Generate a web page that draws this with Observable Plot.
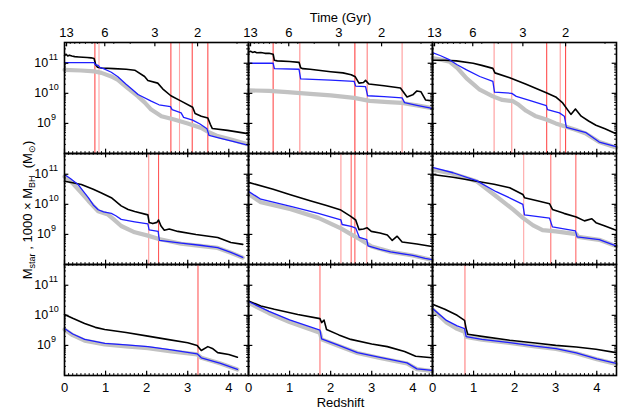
<!DOCTYPE html>
<html><head><meta charset="utf-8">
<script src="https://cdn.jsdelivr.net/npm/d3@7"></script>
<script src="https://cdn.jsdelivr.net/npm/@observablehq/plot@0.6"></script>
<style>body{margin:0;background:#fff;}</style>
</head><body><div id="chart"></div>
<script>
// ---- data: [redshift, log10(mass)] ----
const p1Black = [[0,11.25],[0.04,11.3],[0.08,11.24],[0.12,11.27],[0.18,11.24],[0.25,11.22],[0.35,11.21],[0.45,11.2],[0.55,11.19],[0.65,11.18],[0.72,11.16],[0.76,10.95],[0.8,10.87],[0.9,10.84],[1.2,10.82],[1.5,10.8],[1.71,10.77],[1.95,10.56],[2.03,10.43],[2.27,10.34],[2.39,10.15],[2.59,9.92],[2.84,9.74],[3.12,9.54],[3.18,9.33],[3.33,9.24],[3.49,9.18],[3.55,8.97],[3.6,8.83],[3.97,8.77],[4.46,8.66]];
const p1Blue = [[0,11.02],[0.72,11.02],[0.75,10.95],[0.82,10.93],[0.86,10.86],[0.95,10.82],[1.14,10.7],[1.3,10.55],[1.38,10.45],[1.5,10.3],[1.63,10.15],[1.79,9.96],[2.11,9.74],[2.3,9.62],[2.58,9.56],[2.62,9.46],[2.84,9.35],[2.9,9.2],[3.12,9.11],[3.3,8.98],[3.47,8.82],[3.52,8.6],[3.8,8.5],[4.1,8.4],[4.46,8.28]];
const p1Gray = [[0,10.78],[0.4,10.76],[0.73,10.73],[0.9,10.68],[1.14,10.56],[1.3,10.45],[1.54,10.17],[1.79,9.9],[1.95,9.7],[2.11,9.46],[2.36,9.24],[2.67,9.13],[3.0,9.0],[3.33,8.85],[3.5,8.72],[3.73,8.58],[4.1,8.45],[4.46,8.31]];
const p1Mergers = [[0.74,0.7],[0.84,0.35],[2.59,0.7],[2.8,0.35],[3.11,0.7],[3.49,0.7]];

const p2Black = [[0,11.37],[0.05,11.4],[0.1,11.36],[0.15,11.38],[0.2,11.35],[0.3,11.36],[0.4,11.33],[0.5,11.33],[0.6,11.3],[0.63,11.1],[0.7,11.08],[1.0,11.06],[1.23,11.03],[1.27,10.85],[1.32,10.82],[1.5,10.8],[2.0,10.72],[2.3,10.68],[2.5,10.62],[2.6,10.55],[2.69,10.34],[2.8,10.36],[2.85,10.43],[2.93,10.31],[3.3,10.25],[3.7,10.18],[3.86,9.88],[4.0,9.95],[4.1,10.08],[4.2,10.05],[4.31,9.78],[4.47,9.75]];
const p2Blue = [[0,11.0],[0.6,11.0],[0.63,10.82],[1.23,10.8],[1.27,10.48],[2.0,10.44],[2.57,10.4],[2.61,10.24],[2.85,10.22],[2.9,9.92],[3.3,9.89],[3.74,9.85],[3.8,9.69],[4.1,9.6],[4.47,9.5]];
const p2Gray = [[0,10.1],[0.5,10.08],[0.95,10.04],[1.5,9.98],[2.0,9.93],[2.57,9.85],[2.95,9.75],[3.4,9.71],[3.74,9.68],[4.1,9.6],[4.47,9.51]];
const p2Mergers = [[0.6,0.7],[1.25,0.45],[2.59,0.75],[2.89,0.5],[3.74,0.4]];

const p3Black = [[0,11.1],[0.3,11.1],[0.58,11.08],[0.99,11.0],[1.2,10.93],[1.47,10.83],[1.52,10.68],[1.88,10.52],[2.28,10.3],[2.77,10.02],[3.0,9.88],[3.17,9.68],[3.37,9.3],[3.48,9.48],[3.62,9.24],[3.8,9.08],[3.98,8.94],[4.2,8.82],[4.47,8.66]];
const p3Blue = [[0,11.35],[0.2,11.25],[0.42,11.11],[0.6,10.95],[0.83,10.78],[1.15,10.56],[1.47,10.4],[1.51,10.04],[1.93,10.0],[2.04,9.9],[2.4,9.75],[2.77,9.59],[2.8,9.46],[3.09,9.35],[3.21,9.24],[3.26,8.87],[3.74,8.69],[4.06,8.38],[4.47,8.23]];
const p3Gray = [[0,11.17],[0.2,11.12],[0.42,11.05],[0.6,10.85],[0.83,10.5],[1.0,10.3],[1.15,10.12],[1.47,9.9],[1.7,9.78],[1.96,9.74],[2.1,9.62],[2.28,9.42],[2.5,9.25],[2.77,9.13],[3.0,9.0],[3.25,8.89],[3.5,8.78],[3.74,8.66],[4.06,8.38],[4.47,8.2]];
const p3Mergers = [[1.5,0.4],[1.93,0.4],[2.78,0.7],[3.11,0.4],[3.24,0.7]];

const p4Black = [[0,10.77],[0.2,10.72],[0.41,10.66],[0.7,10.5],[0.9,10.38],[1.14,10.22],[1.38,9.95],[1.55,9.83],[1.71,9.76],[2.03,9.65],[2.06,9.4],[2.15,9.36],[2.25,9.4],[2.29,9.48],[2.35,9.28],[2.43,9.14],[2.55,9.18],[2.76,9.1],[3.2,9.0],[3.73,8.9],[4.05,8.73],[4.34,8.67]];
const p4Blue = [[0,10.99],[0.15,10.85],[0.33,10.66],[0.45,10.45],[0.58,10.22],[0.7,9.98],[0.82,9.82],[0.95,9.75],[1.14,9.7],[1.25,9.62],[1.38,9.5],[1.71,9.42],[2.03,9.35],[2.06,9.15],[2.28,9.1],[2.31,8.8],[2.84,8.71],[3.3,8.64],[3.73,8.56],[4.05,8.4],[4.34,8.24]];
const p4Gray = [[0,10.92],[0.2,10.7],[0.4,10.4],[0.58,10.12],[0.82,9.77],[1.06,9.66],[1.2,9.5],[1.38,9.28],[1.71,9.07],[2.03,8.96],[2.3,8.85],[2.84,8.69],[3.3,8.62],[3.73,8.55],[4.05,8.39],[4.34,8.23]];
const p4Mergers = [[2.05,0.4],[2.29,0.65]];

const p5Black = [[0,10.73],[0.6,10.5],[1.0,10.33],[1.5,10.12],[1.9,9.96],[2.25,9.81],[2.49,9.6],[2.61,9.48],[2.69,9.16],[2.8,9.18],[2.89,9.22],[2.99,9.1],[3.2,9.05],[3.38,8.98],[3.5,8.8],[3.62,8.94],[3.74,8.75],[4.1,8.68],[4.47,8.6]];
const p5Blue = [[0,10.43],[0.3,10.17],[1.03,9.93],[1.7,9.7],[2.25,9.48],[2.28,9.33],[2.5,9.27],[2.61,9.21],[2.7,8.9],[2.88,8.83],[2.91,8.62],[3.2,8.5],[3.46,8.42],[4.0,8.3],[4.3,8.2],[4.47,8.16]];
const p5Gray = [[0,10.34],[0.3,10.07],[1.03,9.84],[1.7,9.55],[2.25,9.2],[2.5,9.0],[2.7,8.85],[2.88,8.7],[3.0,8.6],[3.46,8.42],[4.0,8.3],[4.47,8.15]];
const p5Mergers = [[2.25,0.4],[2.5,0.6],[2.59,0.65],[2.88,0.4]];

const p6Black = [[0,10.99],[0.5,10.9],[1.07,10.77],[1.5,10.67],[1.88,10.55],[2.2,10.33],[2.24,10.22],[2.55,10.12],[2.85,10.02],[2.92,9.83],[3.2,9.7],[3.5,9.58],[3.7,9.45],[3.88,9.52],[3.98,9.39],[4.2,9.28],[4.47,9.14]];
const p6Blue = [[0,11.23],[0.5,11.05],[1.07,10.79],[1.55,10.42],[1.9,10.2],[2.2,10.0],[2.24,9.65],[2.85,9.54],[2.92,9.25],[3.48,9.12],[3.52,8.92],[4.06,8.83],[4.47,8.62]];
const p6Gray = [[0,11.15],[0.5,11.02],[1.07,10.77],[1.55,10.27],[1.96,9.83],[2.2,9.55],[2.45,9.3],[2.68,9.14],[3.0,9.1],[3.5,9.01],[3.55,8.92],[4.06,8.82],[4.47,8.61]];
const p6Mergers = [[2.22,0.35],[2.88,0.55],[3.49,0.6]];

const p7Black = [[0,10.03],[0.2,9.9],[0.49,9.73],[0.75,9.6],[0.98,9.53],[1.5,9.43],[2.03,9.31],[2.5,9.2],[3.0,9.09],[3.23,9.0],[3.33,8.83],[3.49,8.96],[3.6,8.9],[3.73,8.76],[4.0,8.7],[4.21,8.61]];
const p7Blue = [[0,9.56],[0.2,9.38],[0.49,9.2],[0.98,9.07],[1.5,9.02],[2.03,8.96],[2.6,8.85],[3.23,8.72],[3.33,8.59],[3.8,8.4],[4.21,8.2]];
const p7Gray = [[0,9.53],[0.2,9.34],[0.49,9.16],[0.98,9.03],[1.5,8.97],[2.03,8.91],[2.6,8.8],[3.23,8.7],[3.33,8.59],[3.8,8.4],[4.21,8.2]];
const p7Mergers = [[3.25,0.65]];

const p8Black = [[0,10.48],[0.3,10.31],[0.63,10.2],[1.2,10.03],[1.74,9.89],[1.78,9.76],[1.84,9.84],[1.9,9.53],[2.2,9.35],[2.49,9.2],[3.0,9.05],[3.38,8.96],[3.8,8.8],[4.07,8.64],[4.47,8.59]];
const p8Blue = [[0,10.46],[0.5,10.13],[1.0,9.85],[1.74,9.51],[1.78,9.22],[2.2,9.0],[2.65,8.76],[3.2,8.6],[3.86,8.42],[4.1,8.22],[4.47,8.17]];
const p8Gray = [[0,10.42],[0.5,10.07],[1.0,9.78],[1.74,9.42],[1.78,9.2],[2.2,8.98],[2.65,8.75],[3.2,8.58],[3.86,8.4],[4.1,8.21],[4.47,8.15]];
const p8Mergers = [[1.74,0.55]];

const p9Black = [[0,10.37],[0.3,10.2],[0.6,10.0],[0.78,9.83],[0.82,9.55],[0.86,9.37],[1.2,9.3],[1.88,9.17],[2.5,9.08],[3.0,9.0],[3.5,8.95],[3.98,8.87],[4.47,8.76]];
const p9Blue = [[0,10.23],[0.34,9.83],[0.6,9.65],[0.78,9.56],[0.82,9.29],[1.2,9.2],[1.88,9.09],[2.5,8.98],[3.01,8.89],[3.5,8.75],[4.0,8.55],[4.47,8.4]];
const p9Gray = [[0,10.2],[0.34,9.76],[0.6,9.55],[0.78,9.45],[0.82,9.28],[1.2,9.19],[1.88,9.08],[2.5,8.97],[3.01,8.88],[3.5,8.74],[4.0,8.54],[4.47,8.38]];
const p9Mergers = [[0.79,0.5]];

// ---- tick labels ----
const redshiftTicks = [0, 1, 2, 3, 4];
const timeTickLabels = ["13", "6", "3", "2"];
const timeTickZ = [0.05, 0.98, 2.2, 3.24];
const timeMinorZ = [0.14, 0.25, 0.37, 0.51, 0.67, 0.8, 1.2, 1.6, 4.2];
const yTickExponents = [9, 10, 11];

// ---- build tables ----
const panels = [
  [p1Black, p1Blue, p1Gray, p1Mergers], [p2Black, p2Blue, p2Gray, p2Mergers], [p3Black, p3Blue, p3Gray, p3Mergers],
  [p4Black, p4Blue, p4Gray, p4Mergers], [p5Black, p5Blue, p5Gray, p5Mergers], [p6Black, p6Blue, p6Gray, p6Mergers],
  [p7Black, p7Blue, p7Gray, p7Mergers], [p8Black, p8Blue, p8Gray, p8Mergers], [p9Black, p9Blue, p9Gray, p9Mergers]
];
const rows = {black: [], blue: [], gray: []};
const mergerRows = [];
panels.forEach(([bk, bl, gr, mg], i) => {
  const fx = i % 3, fy = Math.floor(i / 3);
  bk.forEach(([z, m]) => rows.black.push({fx, fy, z, m: 10 ** m}));
  bl.forEach(([z, m]) => rows.blue.push({fx, fy, z, m: 10 ** m}));
  gr.forEach(([z, m]) => rows.gray.push({fx, fy, z, m: 10 ** m}));
  mg.forEach(([z, op]) => mergerRows.push({fx, fy, z, op}));
});

const W = 630, H = 419, mL = 63, mR = 13, mT = 41, mB = 43;
const panelH = (H - mT - mB) / 3, panelW = (W - mL - mR) / 3;

const xMinor = d3.range(0, 4.49, 0.1);
const yMajor = yTickExponents.map(e => 10 ** e);
const yMinor = [];
for (const d of [8, 9, 10, 11]) for (let k = 2; k <= 9; k++) { const v = k * 10 ** d; if (v < 10 ** 11.69) yMinor.push(v); }

const topRedshiftTicks = [1, 2].flatMap(fy => redshiftTicks.map(z => ({z, fy})));
const topRedshiftMinor = [1, 2].flatMap(fy => xMinor.map(z => ({z, fy})));
const timeMajor = timeTickZ.map(z => ({z, fy: 0}));
const timeMinor = timeMinorZ.map(z => ({z, fy: 0}));
const timeLabels = timeTickZ.map((z, i) => ({z, fy: 0, label: timeTickLabels[i]}));
const bottomLabels = redshiftTicks.map(z => ({z, fy: 2, label: String(z)}));
const yLabelRows = [0, 1, 2].flatMap(fy => yTickExponents.map(e => ({fx: 0, fy, e, v: 10 ** e})));
const yLab2 = yLabelRows.filter(d => d.e >= 10), yLab1 = yLabelRows.filter(d => d.e < 10);

const font = "'Liberation Sans', Arial, Helvetica, sans-serif";

const plot = Plot.plot({
  width: W, height: H, marginLeft: mL, marginRight: mR, marginTop: mT, marginBottom: mB,
  style: {fontFamily: font, fontSize: "13px", background: "white", color: "black", overflow: "visible"},
  x: {domain: [0, 4.48], axis: null},
  y: {type: "log", domain: [1e8, 10 ** 11.69], axis: null},
  fx: {domain: [0, 1, 2], padding: 0, axis: null},
  fy: {domain: [0, 1, 2], padding: 0, axis: null},
  opacity: {type: "identity"},
  marks: [
    Plot.ruleX(mergerRows, {x: "z", fx: "fx", fy: "fy", stroke: "#ff0000", strokeOpacity: "op", strokeWidth: 1.1}),
    Plot.line(rows.gray, {x: "z", y: "m", fx: "fx", fy: "fy", stroke: "#c2c2c2", strokeWidth: 4.2, strokeLinejoin: "round", strokeLinecap: "round"}),
    Plot.line(rows.black, {x: "z", y: "m", fx: "fx", fy: "fy", stroke: "#000", strokeWidth: 1.6, strokeLinejoin: "round"}),
    Plot.line(rows.blue, {x: "z", y: "m", fx: "fx", fy: "fy", stroke: "#1e1eff", strokeWidth: 1.3, strokeLinejoin: "round"}),
    Plot.frame({stroke: "#000", strokeWidth: 1.6}),
    // bottom redshift ticks (all panels)
    Plot.tickX(redshiftTicks, {x: d => d, insetTop: panelH - 5, stroke: "#000", strokeWidth: 1.2}),
    Plot.tickX(xMinor, {x: d => d, insetTop: panelH - 2.5, stroke: "#000", strokeWidth: 1}),
    // top redshift ticks (rows 2,3)
    Plot.tickX(topRedshiftTicks, {x: "z", fy: "fy", insetBottom: panelH - 5, stroke: "#000", strokeWidth: 1.2}),
    Plot.tickX(topRedshiftMinor, {x: "z", fy: "fy", insetBottom: panelH - 2.5, stroke: "#000", strokeWidth: 1}),
    // top time ticks (row 1)
    Plot.tickX(timeMajor, {x: "z", fy: "fy", insetBottom: panelH - 5, stroke: "#000", strokeWidth: 1.2}),
    Plot.tickX(timeMinor, {x: "z", fy: "fy", insetBottom: panelH - 2.5, stroke: "#000", strokeWidth: 1}),
    // y ticks left and right
    Plot.tickY(yMajor, {y: d => d, insetRight: panelW - 5, stroke: "#000", strokeWidth: 1.2}),
    Plot.tickY(yMinor, {y: d => d, insetRight: panelW - 2.5, stroke: "#000", strokeWidth: 1}),
    Plot.tickY(yMajor, {y: d => d, insetLeft: panelW - 5, stroke: "#000", strokeWidth: 1.2}),
    Plot.tickY(yMinor, {y: d => d, insetLeft: panelW - 2.5, stroke: "#000", strokeWidth: 1}),
    // tick labels
    Plot.text(bottomLabels, {x: "z", fy: "fy", text: "label", frameAnchor: "bottom", lineAnchor: "bottom", dy: 16.5, fontSize: 13, fill: "#000"}),
    Plot.text(timeLabels, {x: "z", fy: "fy", text: "label", frameAnchor: "top", lineAnchor: "bottom", dy: -5.5, fontSize: 13, fill: "#000"}),
    Plot.text(yLab2, {y: "v", fx: "fx", fy: "fy", text: () => "10", frameAnchor: "left", textAnchor: "end", dx: -16.3, fontSize: 12.5, fill: "#000"}),
    Plot.text(yLab2, {y: "v", fx: "fx", fy: "fy", text: d => String(d.e), frameAnchor: "left", textAnchor: "start", dx: -15.8, dy: -6, fontSize: 9, fill: "#000"}),
    Plot.text(yLab1, {y: "v", fx: "fx", fy: "fy", text: () => "10", frameAnchor: "left", textAnchor: "end", dx: -13.7, fontSize: 12.5, fill: "#000"}),
    Plot.text(yLab1, {y: "v", fx: "fx", fy: "fy", text: d => String(d.e), frameAnchor: "left", textAnchor: "start", dx: -13.4, dy: -6, fontSize: 9, fill: "#000"}),
    // axis titles
    Plot.text(["Time (Gyr)"], {fx: () => 1, fy: () => 0, text: d => d, frameAnchor: "top", lineAnchor: "bottom", dy: -21, fontSize: 13, fill: "#000"}),
    Plot.text(["Redshift"], {fx: () => 1, fy: () => 2, text: d => d, frameAnchor: "bottom", lineAnchor: "bottom", dy: 31.5, fontSize: 13, fill: "#000"})
  ]
});
document.getElementById("chart").appendChild(plot);

// rotated y-axis title with subscripts
const yt = d3.select(plot).append("text")
  .attr("transform", "translate(32,210) rotate(-90)")
  .attr("text-anchor", "middle")
  .attr("font-family", font)
  .attr("font-size", 13)
  .attr("fill", "#000")
  .style("white-space", "pre");
const parts = [["M", 0, 13], ["star", 3, 9], [" , 1000 × M", -3, 13], ["BH", 3, 9], ["  (M", -3, 13], ["⊙", 3, 9], [")", -3, 13]];
parts.forEach(([t, dy, fs]) => yt.append("tspan").attr("dy", dy).attr("font-size", fs).text(t));
</script>
</body></html>
